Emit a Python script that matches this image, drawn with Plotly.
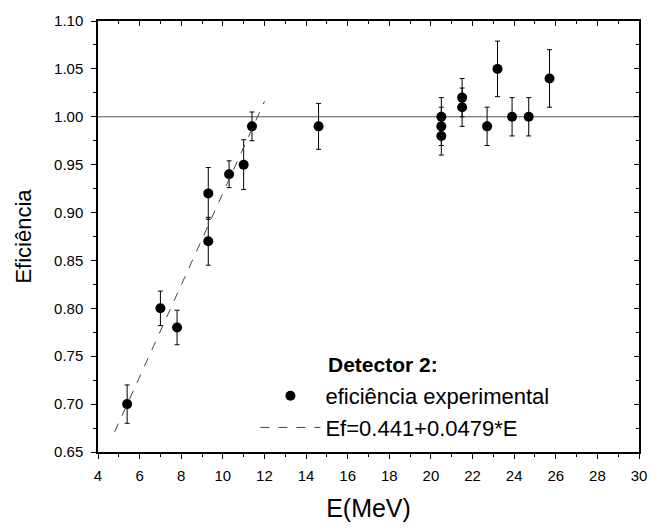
import plotly.graph_objects as go

# Experimental efficiency data (Detector 2)
energy = [5.4, 7.0, 7.8, 9.3, 9.3, 10.3, 11.0, 11.4, 14.6,
          20.5, 20.5, 20.5, 21.5, 21.5, 22.7, 23.2, 23.9, 24.7, 25.7]
efficiency = [0.70, 0.80, 0.78, 0.92, 0.87, 0.94, 0.95, 0.99, 0.99,
              1.00, 0.99, 0.98, 1.02, 1.01, 0.99, 1.05, 1.00, 1.00, 1.04]
errors = [0.020, 0.018, 0.018, 0.027, 0.025, 0.014, 0.026, 0.015, 0.024,
          0.020, 0.020, 0.020, 0.020, 0.020, 0.020, 0.029, 0.020, 0.020, 0.030]

# Linear fit Ef = 0.441 + 0.0479*E, endpoints
fit_x = [4.8, 12.0]
fit_y = [0.671, 1.016]

ref_level = 1.00

x_range = [4, 30]
y_range = [0.65, 1.10]

legend_title = "<b>Detector 2:</b>"

font_family = "Liberation Sans, Arial, sans-serif"

fig = go.Figure()

fig.add_trace(go.Scatter(
    x=energy, y=efficiency, mode="markers",
    name="eficiência experimental",
    marker=dict(color="black", size=10, symbol="circle"),
    error_y=dict(type="data", array=errors, visible=True,
                 color="black", thickness=1, width=2.5),
))

fig.add_trace(go.Scatter(
    x=fit_x, y=fit_y, mode="lines",
    name="Ef=0.441+0.0479*E",
    line=dict(color="#444444", width=1, dash="dash"),
))

fig.add_shape(type="line", xref="paper", x0=0, x1=1, yref="y",
              y0=ref_level, y1=ref_level,
              line=dict(color="#555555", width=1), layer="below")

fig.add_annotation(text=legend_title, xref="paper", yref="paper",
                   x=0.421, y=0.203, xanchor="left", yanchor="middle",
                   showarrow=False, font=dict(size=21, family=font_family))

axis_common = dict(showgrid=False, zeroline=False, showline=True,
                   linecolor="black", linewidth=1.5, ticklen=5,
                   tickcolor="black", tickwidth=1)

fig.update_layout(
    width=659, height=530,
    margin=dict(l=98, r=12, t=21, b=75),
    paper_bgcolor="white", plot_bgcolor="white",
    font=dict(family=font_family, color="black"),
    showlegend=True,
    legend=dict(
        x=0.291, y=0.1786, xanchor="left", yanchor="top",
        bgcolor="rgba(0,0,0,0)",
        font=dict(size=22, family=font_family),
        itemwidth=60, tracegroupgap=0,
    ),
    xaxis=dict(range=x_range, dtick=2, ticks="outside",
               tickfont=dict(size=15), ticklabelstandoff=4,
               minor=dict(ticks="outside", ticklen=3, dtick=1, tickcolor="black"),
               title=dict(text="E(MeV)", font=dict(size=25), standoff=17),
               **axis_common),
    yaxis=dict(range=y_range, dtick=0.05, tickformat=".2f", ticks="outside",
               tickfont=dict(size=15), ticklabelstandoff=5,
               minor=dict(ticks="outside", ticklen=3, dtick=0.025, tickcolor="black"),
               title=dict(text="Eficiência", font=dict(size=22), standoff=16),
               **axis_common),
    xaxis2=dict(range=x_range, dtick=2, ticks="inside", side="top",
                overlaying="x", showticklabels=False,
                minor=dict(ticks="inside", ticklen=3, dtick=1, tickcolor="black"),
                **axis_common),
    yaxis2=dict(range=y_range, dtick=0.05, ticks="inside", side="right",
                overlaying="y", showticklabels=False,
                minor=dict(ticks="inside", ticklen=3, dtick=0.025, tickcolor="black"),
                **axis_common),
)

# invisible trace to anchor the mirrored frame axes
fig.add_trace(go.Scatter(x=[None], y=[None], xaxis="x2", yaxis="y2",
                         showlegend=False, hoverinfo="skip"))

fig.write_html("out.html")
